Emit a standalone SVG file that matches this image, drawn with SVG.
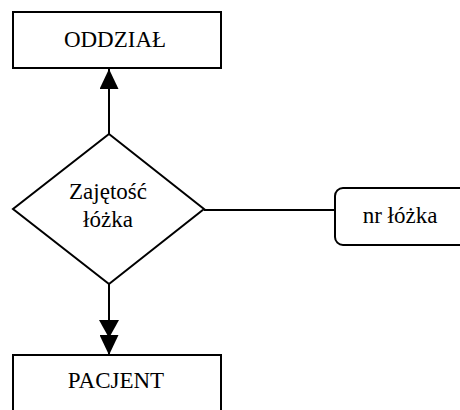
<svg xmlns="http://www.w3.org/2000/svg" width="460" height="410" viewBox="0 0 460 410">
  <style>
    .shape { fill: #ffffff; stroke: #000000; stroke-width: 2; }
    .link { fill: none; stroke: #000000; stroke-width: 2; }
    .label { font-family: "Liberation Serif", "Times New Roman", serif; font-size: 23px; fill: #000000; text-anchor: middle; }
  </style>
  <defs>
    <marker id="arrow" viewBox="0 0 20 19" refX="20" refY="9.5" markerWidth="20" markerHeight="19" markerUnits="userSpaceOnUse" orient="auto">
      <path d="M0,0 L20,9.5 L0,19 Z" fill="#000000"/>
    </marker>
  </defs>
  <rect width="460" height="410" fill="#ffffff"/>

  <g id="connectors">
    <!-- up to ODDZIAŁ -->
    <line class="link" x1="109" y1="134" x2="109" y2="69" marker-end="url(#arrow)"/>
    <!-- down to PACJENT, doubled head -->
    <line class="link" x1="109" y1="284" x2="109" y2="355" marker-end="url(#arrow)"/>
    <path d="M99,320 L119,320 L109,338 Z" fill="#000000"/>
    <!-- to attribute -->
    <line class="link" x1="204" y1="210" x2="335" y2="210"/>
  </g>

  <g id="oddzial">
    <rect class="shape" x="13" y="12" width="208" height="56"/>
    <text class="label" x="115" y="47">ODDZIAŁ</text>
  </g>

  <g id="zajetosc-lozka">
    <polygon class="shape" points="109,134 204,209 109,284 13,209"/>
    <text class="label" x="108" y="199">Zajętość</text>
    <text class="label" x="108" y="227">łóżka</text>
  </g>

  <g id="nr-lozka">
    <rect class="shape" x="335" y="188" width="140" height="57" rx="8" ry="8"/>
    <text class="label" x="400" y="223">nr łóżka</text>
  </g>

  <g id="pacjent">
    <rect class="shape" x="13" y="355" width="208" height="70"/>
    <text class="label" x="116" y="388">PACJENT</text>
  </g>
</svg>
